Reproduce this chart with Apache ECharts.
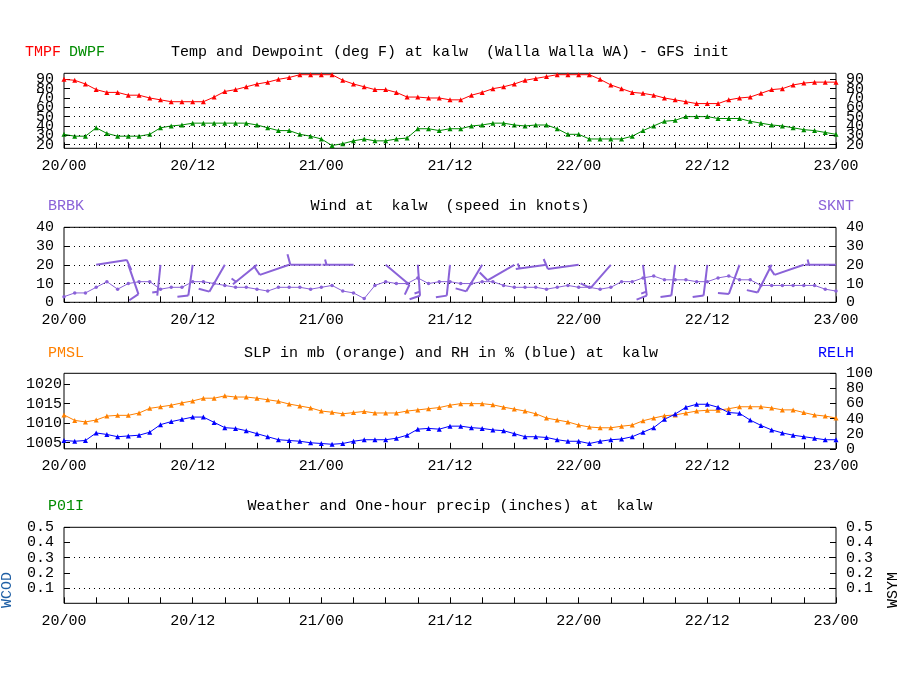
<!DOCTYPE html>
<html><head><meta charset="utf-8">
<script src="https://cdn.jsdelivr.net/npm/echarts@6/dist/echarts.min.js"></script>
<style>html,body{margin:0;padding:0;background:#fff}#c{width:900px;height:700px}</style>
</head><body><div id="c"></div>
<script>
// ---- data ----
const days = ['20', '21', '22', '23'];
const tmpf = [90,89,85,79,76,76,73,73,70,68,66,66,66,66,71,77,79,82,85,87,90,92,95,95,95,95,89,85,82,79,79,76,71,71,70,70,
  68,68,73,76,80,82,85,89,91,93,95,95,95,95,90,84,80,76,75,73,70,68,66,64,64,64,68,70,71,75,79,80,84,86,87,87,87];
const dwpf = [31,29,29,38,32,29,29,29,31,38,40,41,43,43,43,43,43,43,41,38,35,35,31,29,26,19,21,24,26,24,24,26,27,37,37,35,
  37,37,40,41,43,43,41,40,41,41,37,31,31,26,26,26,26,29,35,40,45,46,50,50,50,48,48,48,45,43,41,40,38,36,35,33,31];
const sknt = [3,5,5,8,11,7,10,11,11,7,8,8,11,11,10,9,8,8,7,6,8,8,8,7,8,9,6,5,2,9,11,10,10,13,10,11,
  11,10,10,11,11,9,8,8,8,7,8,9,8,8,7,8,11,11,13,14,12,12,12,11,11,13,14,12,12,9,9,9,9,9,9,7,6];
const barbHours = [0,3,6,9,12,15,18,21,24,27,30,33,36,39,42,45,48,51,54,57,60,63,66,69,72];
const barbDir = [270,81,161,186,188,210,231,251,270,270,130,176,186,211,240,262,262,221,173,187,187,200,207,251,270];
const pmsl = [1012.1,1010.7,1010.3,1010.8,1011.8,1012.0,1012.0,1012.6,1013.8,1014.2,1014.6,1015.2,1015.7,1016.4,1016.4,1017.0,
  1016.7,1016.7,1016.4,1016.0,1015.6,1014.9,1014.4,1013.9,1013.1,1012.8,1012.4,1012.7,1013.0,1012.6,1012.6,1012.6,1013.1,
  1013.4,1013.7,1014.0,1014.6,1015.0,1015.0,1015.0,1014.7,1014.1,1013.6,1013.1,1012.4,1011.3,1010.8,1010.3,1009.5,1009.0,
  1008.8,1008.8,1009.2,1009.5,1010.6,1011.3,1011.9,1012.1,1012.6,1013.1,1013.3,1013.3,1013.7,1014.2,1014.2,1014.2,1013.9,
  1013.4,1013.4,1012.7,1012.1,1011.8,1011.3];
const relh = [11,10,11,21,19,16,17,18,22,32,36,39,42,42,35,28,27,24,20,16,12,11,10,8,7,6,7,10,12,12,12,14,18,26,27,26,
  30,30,28,27,25,24,20,16,16,15,12,10,10,7,10,12,13,16,22,28,39,46,55,59,59,55,48,47,38,31,25,21,18,16,14,12,12];
const p01i = [];
const tempTicks = [20,30,40,50,60,70,80,90];
const tempLabelsA = [20,40,60,80];
const tempLabelsB = [30,50,70,90];
const tempDots = [20,30,40,50,60];
const presTicks = [1005,1010,1015,1020];
const precipDots = [0.1,0.3];
const barbLevel = 20;

// categories (hourly)
const hourLabels = [];
for (let d = 0; d < days.length; d++) {
  for (let h = 0; h < 24; h++) {
    if (d === days.length - 1 && h > 0) break;
    hourLabels.push(days[d] + '/' + (h < 10 ? '0' + h : '' + h));
  }
}

const FONT = 'Liberation Mono';
const FS = 15;
const C = {red:'#ff0000', green:'#008c00', purple:'#8a62d8', orange:'#ff8000', blue:'#0000ff', wcod:'#1f5fa5'};

const grids = [
  {left:64, right:64, top:73.3, height:75},
  {left:64, right:64, top:227.3, height:75},
  {left:64, right:64, top:373.3, height:75.5},
  {left:64, right:64, top:527.3, height:76}
].map(g => Object.assign(g, {show:true, borderColor:'#000', borderWidth:1, backgroundColor:'transparent'}));

function xAxis(i) {
  return {
    type:'category', gridIndex:i, data:hourLabels, boundaryGap:false,
    axisLine:{show:false},
    axisTick:{show:true, inside:true, length:6, interval:(k)=>k%3===0, lineStyle:{color:'#000'}},
    axisLabel:{interval:(k)=>k%12===0, margin:10, fontFamily:FONT, fontSize:FS, color:'#000', hideOverlap:false},
    splitLine:{show:false}
  };
}
function lbl(extra) {
  return Object.assign({margin:10, fontFamily:FONT, fontSize:FS, color:'#000', hideOverlap:false,
    showMinLabel:true, showMaxLabel:true, formatter:(v)=>String(v)}, extra || {});
}
function tick(extra) {
  return Object.assign({show:true, inside:true, length:6, lineStyle:{color:'#000'}}, extra || {});
}
function yAxis(i, pos, o) {
  return Object.assign({
    type:'value', gridIndex:i, position:pos, offset:0,
    axisLine:{show:false},
    axisTick:tick(),
    axisLabel:lbl(),
    splitLine:{show:false}
  }, o);
}
const dotted = {type:[1,4], color:'#000', width:1};

function barbItem(params, api) {
  const idx = api.value(0), spd = api.value(1), dir = api.value(2);
  const p = api.coord([idx, barbLevel]);
  const rad = dir * Math.PI / 180;
  const sx = Math.sin(rad), sy = -Math.cos(rad);
  const L = 31;
  const tip = [p[0] + sx * L, p[1] + sy * L];
  const px = -sy, py = sx;
  const a = 15 * Math.PI / 180;
  const fx = px * Math.cos(a) + sx * Math.sin(a), fy = py * Math.cos(a) + sy * Math.sin(a);
  const r = Math.round(spd / 5) * 5;
  const st = {stroke:C.purple, lineWidth:2};
  const ch = [{type:'line', shape:{x1:p[0], y1:p[1], x2:tip[0], y2:tip[1]}, style:st}];
  const nFull = Math.floor(r / 10), half = (r % 10) >= 5;
  let pos = 0;
  for (let i = 0; i < nFull; i++) {
    const bx = tip[0] - sx * pos, by = tip[1] - sy * pos;
    ch.push({type:'line', shape:{x1:bx, y1:by, x2:bx + fx * 11, y2:by + fy * 11}, style:st});
    pos += 4;
  }
  if (half) {
    if (nFull === 0) pos = 4;
    const bx = tip[0] - sx * pos, by = tip[1] - sy * pos;
    ch.push({type:'line', shape:{x1:bx, y1:by, x2:bx + fx * 5.5, y2:by + fy * 5.5}, style:st});
  }
  return {type:'group', children:ch};
}

function txt(t, x, y, color, align, rot) {
  const e = {type:'text', x:x, y:y, silent:true,
    style:{text:t, fill:color || '#000', font:FS + 'px "' + FONT + '"', align:align || 'left', verticalAlign:'middle'}};
  if (rot) e.rotation = rot;
  return e;
}

const option = {
  animation:false,
  backgroundColor:'#fff',
  grid:grids,
  xAxis:[xAxis(0), xAxis(1), xAxis(2), xAxis(3)],
  yAxis:[
    yAxis(0,'left',{min:16, max:96.5, axisLabel:lbl({customValues:tempLabelsA}), axisTick:tick({customValues:tempTicks})}),
    yAxis(0,'left',{min:16, max:96.5, axisLabel:lbl({customValues:tempLabelsB}), axisTick:{show:false}}),
    yAxis(0,'right',{min:16, max:96.5, axisLabel:lbl({customValues:tempLabelsA}), axisTick:tick({customValues:tempTicks})}),
    yAxis(0,'right',{min:16, max:96.5, axisLabel:lbl({customValues:tempLabelsB}), axisTick:{show:false}}),
    yAxis(1,'left',{min:0, max:40, interval:10, splitLine:{show:true, lineStyle:dotted}}),
    yAxis(1,'right',{min:0, max:40, interval:10}),
    yAxis(2,'left',{min:1003.4, max:1022.8, axisLabel:lbl({margin:2, customValues:presTicks}), axisTick:tick({customValues:presTicks})}),
    yAxis(2,'right',{min:0, max:100, interval:20}),
    yAxis(3,'left',{min:0, max:0.5, interval:0.1, axisLabel:lbl({showMinLabel:false, formatter:(v)=>v.toFixed(1)})}),
    yAxis(3,'right',{min:0, max:0.5, interval:0.1, axisLabel:lbl({showMinLabel:false, formatter:(v)=>v.toFixed(1)})})
  ],
  series:[
    {name:'DWPF', type:'line', xAxisIndex:0, yAxisIndex:0, data:dwpf, clip:false,
      lineStyle:{color:C.green, width:1}, itemStyle:{color:C.green}, symbol:'triangle', symbolSize:5,
      markLine:{silent:true, symbol:'none', label:{show:false}, lineStyle:dotted, data:tempDots.map(v=>({yAxis:v}))}},
    {name:'TMPF', type:'line', xAxisIndex:0, yAxisIndex:0, data:tmpf, clip:false,
      lineStyle:{color:C.red, width:1}, itemStyle:{color:C.red}, symbol:'triangle', symbolSize:5},
    {name:'SKNT', type:'line', xAxisIndex:1, yAxisIndex:4, data:sknt,
      lineStyle:{color:C.purple, width:1}, itemStyle:{color:C.purple}, symbol:'circle', symbolSize:3.5},
    {name:'BRBK', type:'custom', xAxisIndex:1, yAxisIndex:4, clip:true, renderItem:barbItem,
      data:barbHours.map((h, i) => [h, sknt[h], barbDir[i]])},
    {name:'PMSL', type:'line', xAxisIndex:2, yAxisIndex:6, data:pmsl, clip:false,
      lineStyle:{color:C.orange, width:1}, itemStyle:{color:C.orange}, symbol:'triangle', symbolSize:5},
    {name:'RELH', type:'line', xAxisIndex:2, yAxisIndex:7, data:relh, clip:false,
      lineStyle:{color:C.blue, width:1}, itemStyle:{color:C.blue}, symbol:'triangle', symbolSize:5},
    {name:'P01I', type:'line', xAxisIndex:3, yAxisIndex:8, data:p01i,
      lineStyle:{color:C.green, width:1}, symbol:'none',
      markLine:{silent:true, symbol:'none', label:{show:false}, lineStyle:dotted, data:precipDots.map(v=>({yAxis:v}))}}
  ],
  graphic:[
    txt('TMPF', 25, 52, C.red),
    txt('DWPF', 69, 52, C.green),
    txt('Temp and Dewpoint (deg F) at kalw  (Walla Walla WA) - GFS init', 450, 52, '#000', 'center'),
    txt('BRBK', 48, 206.5, C.purple),
    txt('Wind at  kalw  (speed in knots)', 450, 206.5, '#000', 'center'),
    txt('SKNT', 818, 206.5, C.purple),
    txt('PMSL', 48, 353, C.orange),
    txt('SLP in mb (orange) and RH in % (blue) at  kalw', 451, 353, '#000', 'center'),
    txt('RELH', 818, 353, C.blue),
    txt('P01I', 48, 506.5, C.green),
    txt('Weather and One-hour precip (inches) at  kalw', 450, 506.5, '#000', 'center'),
    txt('WCOD', 7, 590, C.wcod, 'center', Math.PI / 2),
    txt('WSYM', 893, 590, '#000', 'center', Math.PI / 2)
  ]
};
const chart = echarts.init(document.getElementById('c'), null, {renderer:'canvas'});
chart.setOption(option);
</script>
</body></html>
